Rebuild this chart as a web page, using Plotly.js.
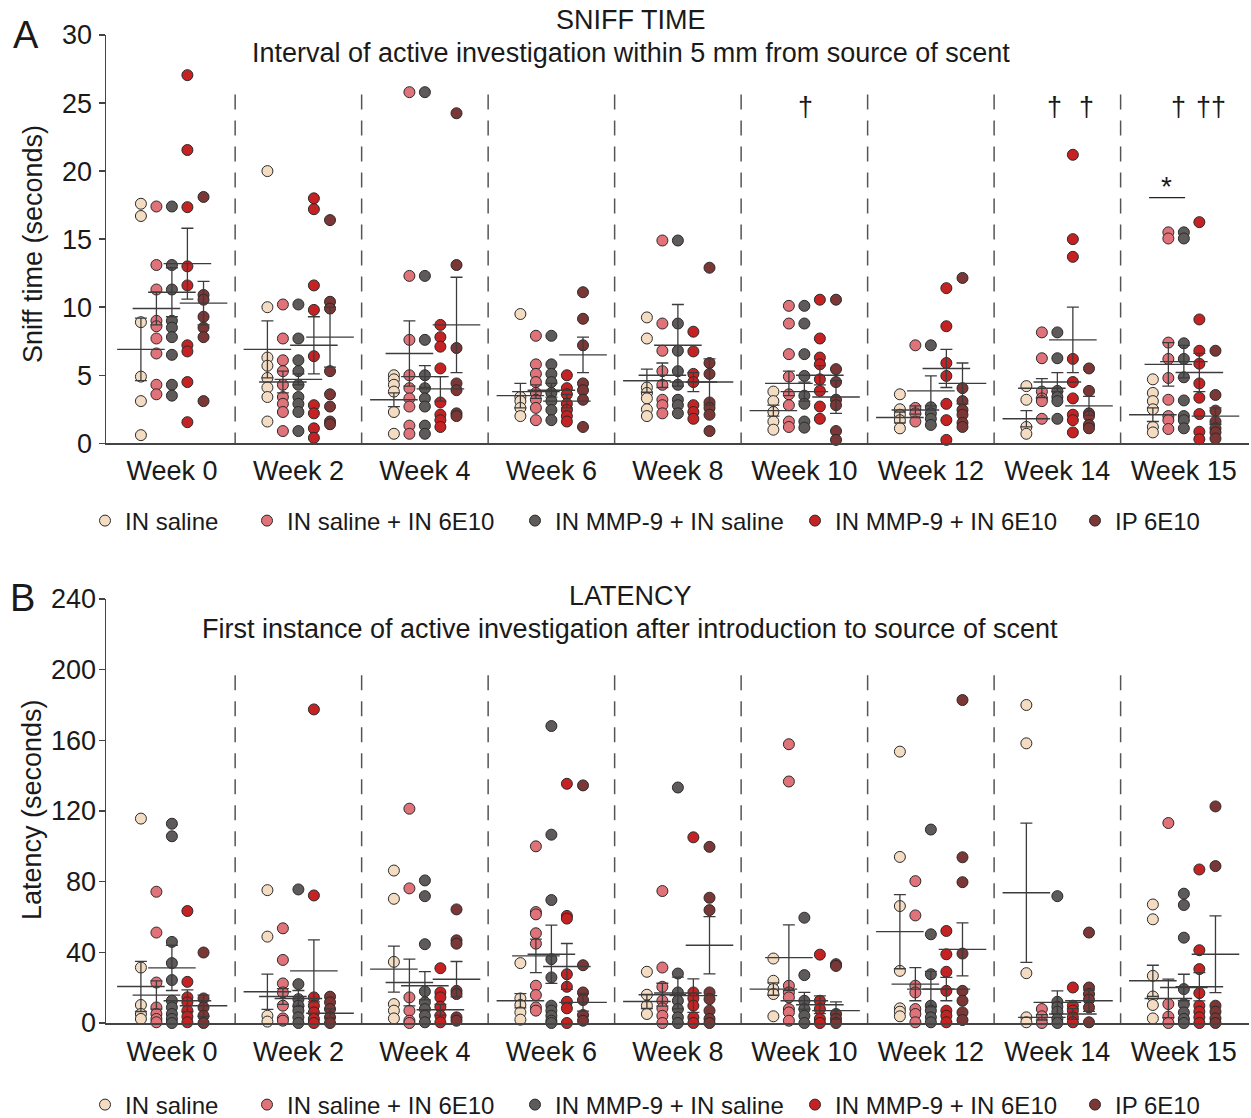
<!DOCTYPE html>
<html>
<head>
<meta charset="utf-8">
<script src="https://cdn.plot.ly/plotly-3.0.1.min.js"></script>
<style>html,body{margin:0;padding:0;background:#fff;}#chart{width:1251px;height:1118px;}</style>
</head>
<body>
<div id="chart"></div>
<script>
// ---------- categories / labels ----------
const weeks = ['Week 0','Week 2','Week 4','Week 6','Week 8','Week 10','Week 12','Week 14','Week 15'];
const groups = ['IN saline','IN saline + IN 6E10','IN MMP-9 + IN saline','IN MMP-9 + IN 6E10','IP 6E10'];
const sniffTicks = [0,5,10,15,20,25,30];
const latencyTicks = [0,40,80,120,160,200,240];

// ---------- A: sniff time (seconds), one list per week ----------
const sniffINsaline = [
  [17.6,16.7,8.9,4.9,3.1,0.6],
  [20.0,10.0,6.3,5.7,4.8,4.1,3.4,1.6],
  [5.0,4.7,4.3,3.8,2.3,0.7],
  [9.5,3.4,3.1,2.6,2.0],
  [9.25,7.7,4.1,3.7,3.3,2.5,2.0],
  [3.8,3.1,2.3,1.6,1.0],
  [3.6,2.5,2.1,1.7,1.1],
  [4.2,3.2,1.2,0.7],
  [4.7,3.7,3.1,2.5,1.2,0.8]
];
const sniffINsalineIN6E10 = [
  [17.4,13.1,11.3,9.0,8.6,7.7,6.6,4.3,3.6],
  [10.2,7.7,6.1,5.3,4.3,3.4,2.9,2.3,0.9],
  [25.8,12.3,7.6,5.0,4.05,3.3,2.7,1.3,0.7],
  [7.9,5.8,5.1,4.5,3.7,3.2,2.6,1.7],
  [14.9,8.8,6.8,5.3,4.3,3.2,2.8,2.2],
  [10.1,8.8,6.55,4.9,3.6,2.8,1.6,1.2],
  [7.2,2.6,2.2,1.6],
  [8.15,6.25,3.8,3.3,3.1,1.8],
  [15.5,15.05,7.4,6.2,4.8,3.2,2.0,1.7,1.05]
];
const sniffINMMP9INsaline = [
  [17.4,13.1,11.3,9.0,8.5,7.8,6.5,4.3,3.5],
  [10.2,7.7,6.1,5.3,4.3,3.4,2.9,2.3,0.9],
  [25.8,12.3,7.6,5.0,4.05,3.3,2.7,1.3,0.7],
  [7.9,5.8,5.1,4.5,3.7,3.1,2.45,1.7],
  [14.9,8.8,6.8,5.3,4.3,3.2,2.8,2.2],
  [10.1,8.8,6.55,4.95,3.5,2.9,1.6,1.15],
  [7.2,2.65,2.2,1.8,1.35],
  [8.15,6.25,3.85,3.4,3.1,1.8],
  [15.5,15.05,7.35,6.2,4.85,3.15,2.0,1.7,1.1]
];
const sniffINMMP9IN6E10 = [
  [27.05,21.55,17.35,13.0,11.6,7.2,6.75,4.5,1.55],
  [18.0,17.2,11.6,9.8,6.4,2.8,2.2,1.1,0.4],
  [8.7,7.8,7.1,5.5,3.0,2.1,1.7,1.2],
  [5.0,4.05,3.6,2.9,2.45,2.0,1.6],
  [8.2,6.75,5.1,4.5,2.8,2.3,1.8],
  [10.55,7.7,6.3,5.8,4.7,3.85,2.7,1.8],
  [11.4,8.6,5.9,4.95,2.9,1.7,0.25],
  [21.2,15.0,13.7,6.2,4.5,3.3,2.1,1.7,0.8],
  [16.25,9.1,6.8,5.85,4.4,3.35,2.15,0.85,0.3]
];
const sniffIP6E10 = [
  [18.1,10.9,10.55,9.3,8.5,7.8,3.1],
  [16.4,10.4,9.9,5.3,3.6,2.7,1.6,1.4],
  [24.25,13.1,7.0,4.4,3.9,2.2,2.0],
  [11.1,9.15,7.2,4.4,3.9,3.2,1.2],
  [12.9,5.9,5.1,3.0,2.6,2.1,0.9],
  [10.55,5.45,4.5,3.2,2.8,0.9,0.25],
  [12.15,4.05,3.1,2.45,2.1,1.5,1.2],
  [5.5,3.85,2.2,2.0,1.35,1.1],
  [6.8,3.55,2.4,1.6,1.1,0.8,0.35]
];
// means and SEM per week
const sniffMeanINsaline = [6.9,6.9,3.2,3.5,4.6,2.4,1.9,1.8,2.1];
const sniffSemINsaline  = [2.3,2.1,0.5,0.9,0.85,0.4,0.4,0.6,0.5];
const sniffMeanINsalineIN6E10 = [9.9,4.5,6.6,3.8,5.0,4.4,2.45,4.05,5.8];
const sniffSemINsalineIN6E10  = [1.2,0.8,2.4,0.5,0.9,0.9,0.3,0.7,1.6];
const sniffMeanINMMP9INsaline = [11.1,4.7,4.9,3.9,7.2,3.8,3.85,4.5,6.0];
const sniffSemINMMP9INsaline  = [1.8,0.4,0.8,0.5,3.0,0.7,1.1,0.7,1.2];
const sniffMeanINMMP9IN6E10 = [13.2,7.2,4.0,3.1,4.5,5.0,5.5,7.6,5.2];
const sniffSemINMMP9IN6E10  = [2.6,2.1,0.9,0.5,0.7,0.7,1.4,2.4,1.4];
const sniffMeanIP6E10 = [10.3,7.8,8.7,6.5,4.5,3.4,4.4,2.75,2.0];
const sniffSemIP6E10  = [1.6,2.2,3.5,1.3,1.7,1.2,1.5,0.7,0.6];

// ---------- B: latency (seconds) ----------
const latINsaline = [
  [115.7,31.4,10.2,5.1,2.3],
  [75.2,48.9,4.1,0.8],
  [86.3,70.3,34.6,10.7,7.0,2.6],
  [33.9,13.9,10.2,6.0,1.9],
  [29.0,16.0,9.8,5.1],
  [36.5,23.9,19.2,16.4,3.8],
  [153.6,94.0,66.2,29.5,8.3,6.4,3.8],
  [180.0,158.3,28.2,3.2,0.4],
  [67.1,58.7,26.7,15.0,10.2,2.6]
];
const latINsalineIN6E10 = [
  [74.3,51.2,22.9,8.8,5.1,2.3,0.4],
  [53.6,35.7,22.4,17.3,9.8,2.6,1.3],
  [121.3,76.2,14.5,7.0,1.3,0],
  [100.0,62.8,61.5,50.8,44.9,21.1,15.8,8.8,7.0],
  [74.7,31.4,20.5,12.6,8.3,4.1,0],
  [157.8,136.7,21.1,17.3,14.5,7.9,6.0,1.3],
  [80.3,60.9,21.1,17.3,7.9,5.1,0.4],
  [7.9,3.8,0],
  [113.2,10.7,3.6,0]
];
const latINMMP9INsaline = [
  [112.8,105.7,45.9,33.9,24.3,12.6,8.8,5.1,2.3,0],
  [75.6,22.0,13.5,9.8,7.0,3.2,0],
  [80.7,71.8,44.6,17.9,11.7,7.9,4.1,0.4],
  [168.1,106.6,69.6,36.1,25.8,9.8,7.0,4.1,1.3,0],
  [133.3,28.0,17.3,12.6,7.9,3.2,0],
  [59.6,27.1,12.6,7.9,4.1,0],
  [109.5,50.2,27.6,9.8,7.0,3.2,0.4],
  [71.8,12.0,9.2,6.4,2.3,0],
  [73.2,66.8,48.3,19.2,10.7,6.0,2.3,0]
];
const latINMMP9IN6E10 = [
  [63.4,23.3,14.5,11.7,7.0,3.6,0.4],
  [177.5,72.2,14.5,9.8,6.0,2.3,0],
  [31.0,17.3,14.5,9.2,4.1,0.4],
  [135.4,60.6,59.1,27.6,20.5,12.0,8.3,0],
  [105.1,17.3,13.9,9.8,3.2,0],
  [38.7,12.6,7.9,2.3,0],
  [52.1,38.9,29.0,18.2,7.0,4.1,0.4],
  [20.1,9.8,7.0,3.2,0.4],
  [86.9,41.2,30.5,16.9,9.8,6.4,3.2,0]
];
const latIP6E10 = [
  [39.9,13.9,8.8,4.1,0],
  [14.9,11.7,7.9,3.2,0],
  [64.3,46.8,44.9,18.2,16.4,3.2,1.3],
  [134.5,32.7,17.3,13.0,4.5,1.3],
  [99.7,70.9,63.9,17.3,13.5,7.0,2.3,0],
  [33.3,32.3,5.1,2.3,0],
  [182.8,93.8,79.7,39.3,18.2,12.6,6.0,1.7],
  [51.2,20.1,16.4,13.2,8.8,0.4],
  [122.6,88.8,9.8,6.4,2.6,0]
];
const latMeanINsaline = [20.7,17.7,30.5,12.6,12.2,19.2,51.7,73.7,23.9];
const latSemINsaline  = [14.2,10.0,13.0,4.0,4.0,3.5,21.0,39.4,8.8];
const latMeanINsalineIN6E10 = [15.8,15.0,22.9,38.0,16.0,37.0,22.0,3.2,13.9];
const latSemINsalineIN6E10  = [8.0,4.5,13.2,9.5,6.5,18.5,9.4,1.5,10.9];
const latMeanINMMP9INsaline = [31.2,13.9,21.1,38.9,17.0,12.6,19.2,11.7,20.1];
const latSemINMMP9INsaline  = [12.8,4.5,8.0,16.5,9.0,4.7,10.0,6.5,7.5];
const latMeanINMMP9IN6E10 = [12.6,29.5,7.5,32.0,15.5,10.3,19.2,5.1,20.5];
const latSemINMMP9IN6E10  = [6.2,17.5,3.0,13.0,9.5,5.0,6.6,3.0,8.0];
const latMeanIP6E10 = [9.8,5.5,24.8,11.7,44.0,7.0,41.7,12.6,38.9];
const latSemIP6E10  = [6.0,2.5,10.0,5.0,16.2,5.0,15.0,6.0,21.7];

// ---------- styling ----------
const colors = ['#F4DCC3','#E0737A','#5F5A5A','#C42223','#7B3636'];
const offsets = [-0.245,-0.1225,0,0.1225,0.25];
const FONT = 'Arial, "Liberation Sans", sans-serif';
const lineCol = '#3c3c3c';

const sniffPts = [sniffINsaline,sniffINsalineIN6E10,sniffINMMP9INsaline,sniffINMMP9IN6E10,sniffIP6E10];
const sniffMeans = [sniffMeanINsaline,sniffMeanINsalineIN6E10,sniffMeanINMMP9INsaline,sniffMeanINMMP9IN6E10,sniffMeanIP6E10];
const sniffSems = [sniffSemINsaline,sniffSemINsalineIN6E10,sniffSemINMMP9INsaline,sniffSemINMMP9IN6E10,sniffSemIP6E10];
const latPts = [latINsaline,latINsalineIN6E10,latINMMP9INsaline,latINMMP9IN6E10,latIP6E10];
const latMeans = [latMeanINsaline,latMeanINsalineIN6E10,latMeanINMMP9INsaline,latMeanINMMP9IN6E10,latMeanIP6E10];
const latSems = [latSemINsaline,latSemINsalineIN6E10,latSemINMMP9INsaline,latSemINMMP9IN6E10,latSemIP6E10];

const traces = [];
function addPanel(pts, means, sems, xa, ya, legendBase){
  for(let s=0;s<5;s++){
    const xs=[], ys=[];
    pts[s].forEach((arr,w)=>arr.forEach(v=>{xs.push(w+offsets[s]); ys.push(v);}));
    traces.push({
      type:'scatter', mode:'markers', x:xs, y:ys, xaxis:xa, yaxis:ya,
      name:groups[s], legend: (legendBase+s===0)?'legend':'legend'+(legendBase+s+1),
      cliponaxis:false, hoverinfo:'y',
      marker:{size:11, color:colors[s], line:{color:'#2a2a2a', width:1}}
    });
  }
  for(let s=0;s<5;s++){
    traces.push({
      type:'scatter', mode:'markers', x:weeks.map((_,w)=>w+offsets[s]), y:means[s],
      xaxis:xa, yaxis:ya, showlegend:false, cliponaxis:false, hoverinfo:'y',
      marker:{symbol:'line-ew', size:34, color:lineCol, line:{color:lineCol, width:1.4}},
      error_y:{type:'data', array:sems[s], visible:true, color:lineCol, thickness:1.3, width:6}
    });
  }
}
addPanel(sniffPts, sniffMeans, sniffSems, 'x', 'y', 0);
addPanel(latPts, latMeans, latSems, 'x2', 'y2', 5);

const W=1251, H=1118;
const px = v => v/W, py = v => (H-v)/H;
const xRange = [-0.521, 8.515];

const shapes = [];
for(let i=0;i<8;i++){
  shapes.push({type:'line', xref:'x', yref:'y', x0:i+0.5, x1:i+0.5, y0:-0.3, y1:26.0,
    line:{color:'#555', width:1.5, dash:'15px,11px'}});
  shapes.push({type:'line', xref:'x2', yref:'y2', x0:i+0.5, x1:i+0.5, y0:-3, y1:198,
    line:{color:'#555', width:1.5, dash:'15px,11px'}});
}
// significance bar
shapes.push({type:'line', xref:'x', yref:'y', x0:7.725, x1:8.01, y0:18.05, y1:18.05, line:{color:'#222', width:1.3}});

function ann(text,x,y,size,extra){return Object.assign({text:text,x:x,y:y,xref:'paper',yref:'paper',showarrow:false,font:{family:FONT,size:size,color:'#1a1a1a'},xanchor:'center',yanchor:'middle'},extra||{});}
function mark(text,x,y,size){return {text:text, x:x, y:y, xref:'x', yref:'y', showarrow:false, font:{family:FONT,size:size,color:'#1a1a1a'}};}
const annotations = [
  ann('SNIFF TIME', px(631), py(20), 27),
  ann('Interval of active investigation within 5 mm from source of scent', px(631), py(53), 27),
  ann('LATENCY', px(630), py(596), 27),
  ann('First instance of active investigation after introduction to source of scent', px(630), py(629), 27),
  ann('A', px(26), py(35), 38),
  ann('B', px(22), py(598), 38),
  ann('Sniff time (seconds)', px(33), py(244), 27, {textangle:-90}),
  ann('Latency (seconds)', px(32), py(810), 27, {textangle:-90}),
  mark('†', 5.008, 24.7, 27),
  mark('†', 6.975, 24.7, 27),
  mark('†', 7.227, 24.7, 27),
  mark('†', 7.954, 24.7, 27),
  mark('††', 8.215, 24.7, 27),
  mark('*', 7.86, 18.9, 28)
];

const axisCommon = {showgrid:false, zeroline:false, showline:true, linecolor:'#444', linewidth:1.5,
  tickfont:{family:FONT, size:27, color:'#1a1a1a'}, fixedrange:true};

const layout = {
  width:W, height:H, margin:{l:0,r:0,t:0,b:0,autoexpand:false}, paper_bgcolor:'#fff', plot_bgcolor:'rgba(0,0,0,0)',
  font:{family:FONT, color:'#1a1a1a'}, hovermode:'closest',
  xaxis: Object.assign({}, axisCommon, {domain:[px(106),px(1249)], range:xRange, tickvals:weeks.map((_,i)=>i), ticktext:weeks, ticks:'', ticklabelstandoff:3, anchor:'y'}),
  yaxis: Object.assign({}, axisCommon, {domain:[py(443.3),py(35)], range:[0,30], tickvals:sniffTicks, ticks:'outside', ticklen:6, tickwidth:1.5, tickcolor:'#444', ticklabelstandoff:1, anchor:'x'}),
  xaxis2: Object.assign({}, axisCommon, {domain:[px(106),px(1249)], range:xRange, tickvals:weeks.map((_,i)=>i), ticktext:weeks, ticks:'', ticklabelstandoff:4, anchor:'y2'}),
  yaxis2: Object.assign({}, axisCommon, {domain:[py(1023),py(599)], range:[0,240], tickvals:latencyTicks, ticks:'outside', ticklen:6, tickwidth:1.5, tickcolor:'#444', ticklabelstandoff:-3, anchor:'x2'}),
  shapes:shapes, annotations:annotations
};
const legTextStart = [123,285,553,833,1113];
for(let k=0;k<10;k++){
  const key = k===0?'legend':'legend'+(k+1);
  const yy = k<5 ? py(521) : py(1105);
  layout[key] = {x:px(legTextStart[k%5]-38), y:yy, xanchor:'left', yanchor:'middle', orientation:'h',
    bgcolor:'rgba(0,0,0,0)', borderwidth:0, font:{family:FONT, size:24, color:'#1a1a1a'}, itemclick:false, itemdoubleclick:false};
}
Plotly.newPlot('chart', traces, layout, {displayModeBar:false, staticPlot:true});
</script>
</body>
</html>
